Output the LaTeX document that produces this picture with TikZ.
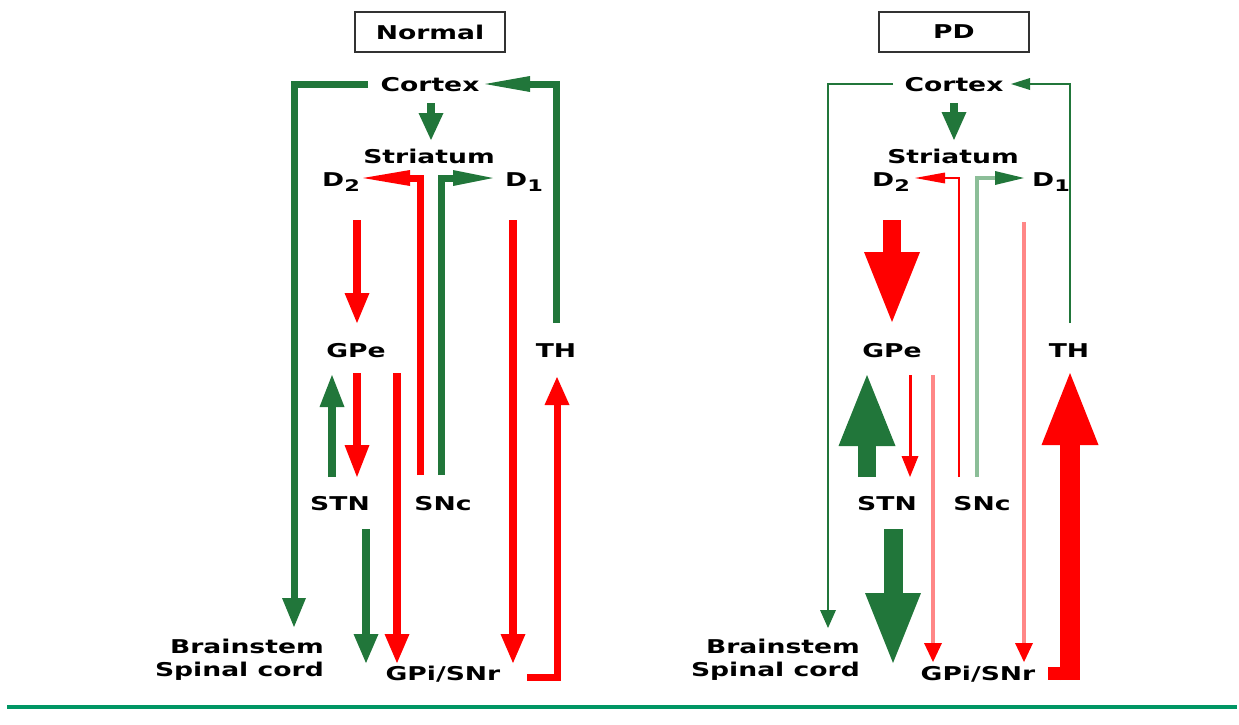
\documentclass[tikz,border=0pt]{standalone}
\usepackage{fontspec}
\setmainfont{DejaVu Sans}[FakeStretch=1.4]
\usetikzlibrary{arrows.meta}
\definecolor{dg}{RGB}{33,118,58}
\definecolor{lg}{RGB}{140,190,152}
\definecolor{pk}{RGB}{255,135,135}
\definecolor{rd}{RGB}{255,0,0}
\definecolor{teal}{RGB}{0,150,100}
\definecolor{bx}{RGB}{50,50,50}
\begin{document}
\begin{tikzpicture}[x=1pt,y=-1pt,
  lab/.style={inner sep=0pt, font=\fontsize{19}{23}\selectfont\bfseries, anchor=base},
  box/.style={draw=bx, line width=2pt, minimum width=150pt, minimum height=40pt, inner sep=0pt, font=\fontsize{19}{23}\selectfont\bfseries},
  conn/.style={line join=miter, line cap=butt},
  tip/.style n args={2}{-{Triangle[length=#1pt,width=#2pt,line width=0pt]}},
  ctip/.style n args={3}{-{Triangle[length=#1pt,width=#2pt,line width=0pt,color=#3]}}
]
\useasboundingbox (0,0) rectangle (1239,725);
\newcommand{\Dsub}[1]{D\raisebox{-5pt}{\fontsize{16}{16}\selectfont #1}}

% ---------------- Normal ----------------
\node[box] (normal) at (430,32) {Normal};
\node[lab] (cortexL) at (430,91) {Cortex};
\node[lab] (striatumL) at (429,163) {Striatum};
\node[lab, anchor=base west] (d2L) at (322,186) {\Dsub{2}};
\node[lab, anchor=base west] (d1L) at (505,186) {\Dsub{1}};
\node[lab] (gpeL) at (356,357) {GPe};
\node[lab] (thL) at (556,357) {TH};
\node[lab] (stnL) at (340,510) {STN};
\node[lab] (sncL) at (443,510) {SNc};
\node[lab, anchor=base east] (brainL) at (324,653) {Brainstem};
\node[lab, anchor=base east] (spinalL) at (324,676) {Spinal cord};
\node[lab] (gpiL) at (443,680) {GPi/SNr};

\coordinate (Lcs1) at (431,103); \coordinate (Lcs2) at (431,140);
\coordinate (Lb1) at (368,84); \coordinate (Lb2) at (294,84); \coordinate (Lb3) at (294,627);
\coordinate (Lt1) at (556,323); \coordinate (Lt2) at (556,84); \coordinate (Lt3) at (485,84);
\coordinate (Ls1) at (420,475); \coordinate (Ls2) at (420,178); \coordinate (Ls3) at (363,178);
\coordinate (Lg1) at (441,475); \coordinate (Lg2) at (441,178); \coordinate (Lg3) at (493,178);
\coordinate (Ld2a) at (357,220); \coordinate (Ld2b) at (357,323);
\coordinate (Lgs1) at (357,373); \coordinate (Lgs2) at (357,477);
\coordinate (Lsg1) at (332,477); \coordinate (Lsg2) at (332,375);
\coordinate (Lgg1) at (397,373); \coordinate (Lgg2) at (397,663);
\coordinate (Lsi1) at (366,529); \coordinate (Lsi2) at (366,663);
\coordinate (Ld1a) at (513,220); \coordinate (Ld1b) at (513,663);
\coordinate (Lth1) at (527,677); \coordinate (Lth2) at (557,677); \coordinate (Lth3) at (557,377);

\draw[conn, dg, line width=8pt, tip={27}{25}] (Lcs1) -- (Lcs2);
\draw[conn, dg, line width=7pt, tip={29}{24}] (Lb1) -- (Lb2) -- (Lb3);
\draw[conn, dg, line width=7pt, tip={45}{16}] (Lt1) -- (Lt2) -- (Lt3);
\draw[conn, rd, line width=7pt, tip={47}{16}] (Ls1) -- (Ls2) -- (Ls3);
\draw[conn, dg, line width=7pt, tip={40}{16}] (Lg1) -- (Lg2) -- (Lg3);
\draw[conn, rd, line width=7.5pt, tip={30}{25}] (Ld2a) -- (Ld2b);
\draw[conn, rd, line width=7.5pt, tip={32}{25}] (Lgs1) -- (Lgs2);
\draw[conn, dg, line width=7.5pt, tip={32}{25}] (Lsg1) -- (Lsg2);
\draw[conn, rd, line width=7.5pt, tip={29}{25}] (Lgg1) -- (Lgg2);
\draw[conn, dg, line width=7.5pt, tip={29}{25}] (Lsi1) -- (Lsi2);
\draw[conn, rd, line width=7.5pt, tip={29}{25}] (Ld1a) -- (Ld1b);
\draw[conn, rd, line width=7pt, tip={28}{25}] (Lth1) -- (Lth2) -- (Lth3);

% ---------------- PD ----------------
\node[box] (pd) at (954,32) {PD};
\node[lab] (cortexR) at (954,91) {Cortex};
\node[lab] (striatumR) at (953,163) {Striatum};
\node[lab, anchor=base west] (d2R) at (872,186) {\Dsub{2}};
\node[lab, anchor=base west] (d1R) at (1032,186) {\Dsub{1}};
\node[lab] (gpeR) at (892,357) {GPe};
\node[lab] (thR) at (1069,357) {TH};
\node[lab] (stnR) at (887,510) {STN};
\node[lab] (sncR) at (982,510) {SNc};
\node[lab, anchor=base east] (brainR) at (860,653) {Brainstem};
\node[lab, anchor=base east] (spinalR) at (860,676) {Spinal cord};
\node[lab] (gpiR) at (978,680) {GPi/SNr};

\coordinate (Rcs1) at (954,103); \coordinate (Rcs2) at (954,140);
\coordinate (Rb1) at (893,84); \coordinate (Rb2) at (828,84); \coordinate (Rb3) at (828,628);
\coordinate (Rt1) at (1070,323); \coordinate (Rt2) at (1070,84); \coordinate (Rt3) at (1011,84);
\coordinate (Rs1) at (959,477); \coordinate (Rs2) at (959,178); \coordinate (Rs3) at (915,178);
\coordinate (Rg1) at (977,477); \coordinate (Rg2) at (977,178); \coordinate (Rg3) at (1024,178);
\coordinate (Rd2a) at (892,220); \coordinate (Rd2b) at (892,322);
\coordinate (Rsg1) at (867,477); \coordinate (Rsg2) at (867,375);
\coordinate (Rgs1) at (910,375); \coordinate (Rgs2) at (910,477);
\coordinate (Rgg1) at (933,375); \coordinate (Rgg2) at (933,662);
\coordinate (Rsi1) at (893,529); \coordinate (Rsi2) at (893,663);
\coordinate (Rd1a) at (1024,222); \coordinate (Rd1b) at (1024,662);
\coordinate (Rth0) at (1048,673.5); \coordinate (Rth1) at (1070,673.5);
\coordinate (Rth2) at (1070,680); \coordinate (Rth3) at (1070,373);

\draw[conn, dg, line width=8pt, tip={28}{25}] (Rcs1) -- (Rcs2);
\draw[conn, dg, line width=2pt, tip={18}{16}] (Rb1) -- (Rb2) -- (Rb3);
\draw[conn, dg, line width=2pt, tip={19}{12}] (Rt1) -- (Rt2) -- (Rt3);
\draw[conn, rd, line width=2.5pt, tip={30}{11}] (Rs1) -- (Rs2) -- (Rs3);
\draw[conn, lg, line width=4pt, ctip={29}{14}{dg}] (Rg1) -- (Rg2) -- (Rg3);
\draw[conn, rd, line width=18pt, tip={70}{56}] (Rd2a) -- (Rd2b);
\draw[conn, dg, line width=18pt, tip={71}{57}] (Rsg1) -- (Rsg2);
\draw[conn, rd, line width=3pt, tip={21}{17}] (Rgs1) -- (Rgs2);
\draw[conn, pk, line width=4.5pt, ctip={19}{18}{rd}] (Rgg1) -- (Rgg2);
\draw[conn, dg, line width=19pt, tip={70}{56}] (Rsi1) -- (Rsi2);
\draw[conn, pk, line width=4.5pt, ctip={19}{18}{rd}] (Rd1a) -- (Rd1b);
\draw[conn, rd, line width=13pt] (Rth0) -- (Rth1);
\draw[conn, rd, line width=20pt, tip={72}{57}] (Rth2) -- (Rth3);

% bottom rule
\coordinate (rule1) at (7,706.5); \coordinate (rule2) at (1237,706.5);
\draw[teal, line width=4pt] (rule1) -- (rule2);
\end{tikzpicture}
\end{document}
